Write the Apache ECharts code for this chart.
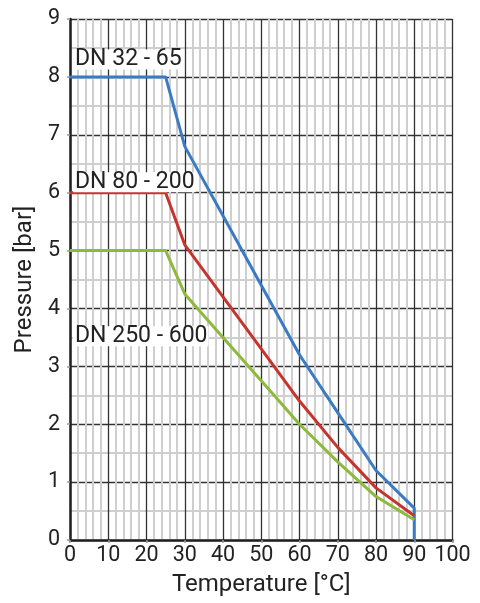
<!DOCTYPE html>
<html><head><meta charset="utf-8">
<script src="https://cdn.jsdelivr.net/npm/echarts@6/dist/echarts.min.js"></script>
<style>html,body{margin:0;padding:0;background:#fff}#c{width:480px;height:603px}</style>
</head><body><div id="c"></div>
<script>
const temps = [0, 25, 30, 40, 50, 60, 70, 80, 90];
const dn32_65 = [8, 8, 6.8, 5.6, 4.4, 3.2, 2.2, 1.2, 0.55];
const dn80_200 = [6, 6, 5.1, 4.2, 3.3, 2.4, 1.6, 0.9, 0.42];
const dn250_600 = [5, 5, 4.25, 3.5, 2.75, 2.0, 1.35, 0.75, 0.35];
const endDrop = [[90, 0]];
const seriesNames = ['DN 32 - 65', 'DN 80 - 200', 'DN 250 - 600'];
const labelPoints = [[0, 8.3], [0, 6.18], [0, 3.52]];
const colors = ['#3a7bc4', '#c6352d', '#8dba3c'];

const pair = (xs, ys) => xs.map((x, i) => [x, ys[i]]);
const font = 'Roboto, "Noto Sans", sans-serif';

const chart = echarts.init(document.getElementById('c'), null, {renderer: 'canvas'});
const lineSeries = [
  pair(temps, dn32_65).concat(endDrop),
  pair(temps, dn80_200),
  pair(temps, dn250_600)
].map((d, i) => ({
  type: 'line', name: seriesNames[i], data: d, symbol: 'none',
  lineStyle: {color: colors[i], width: 3}, z: 3, animation: false
}));

chart.setOption({
  animation: false,
  grid: {left: 70, right: 27.5, top: 19, bottom: 63},
  xAxis: {
    type: 'value', min: 0, max: 100, interval: 10,
    name: 'Temperature [°C]', nameLocation: 'middle', nameGap: 33,
    nameTextStyle: {fontFamily: font, fontSize: 24, color: '#222'},
    axisLine: {show: true, lineStyle: {color: '#222', width: 2.5}},
    axisTick: {show: true, length: 3, lineStyle: {color: '#999', width: 1.5}},
    axisLabel: {fontFamily: font, fontSize: 21.5, color: '#222', margin: 5},
    splitLine: {show: true, lineStyle: {color: '#333', width: 1.3}},
    minorTick: {show: false, splitNumber: 5},
    minorSplitLine: {show: true, lineStyle: {color: '#cfcfcf', width: 2}}
  },
  yAxis: {
    type: 'value', min: 0, max: 9, interval: 1,
    name: 'Pressure [bar]', nameLocation: 'middle', nameGap: 32, nameRotate: 90,
    nameTextStyle: {fontFamily: font, fontSize: 24, color: '#222'},
    axisLine: {show: true, lineStyle: {color: '#222', width: 2.5}},
    axisTick: {show: true, length: 3, lineStyle: {color: '#999', width: 1.5}},
    axisLabel: {fontFamily: font, fontSize: 21.5, color: '#222', margin: 10},
    splitLine: {show: true, lineStyle: {color: '#333', width: 1.3}},
    minorTick: {show: false, splitNumber: 2},
    minorSplitLine: {show: true, lineStyle: {color: '#cfcfcf', width: 2}}
  },
  series: lineSeries
});

const graphics = labelPoints.map((p, i) => {
  const px = chart.convertToPixel({gridIndex: 0}, p);
  return {
    type: 'text', z: 100, x: px[0] + 3, y: px[1],
    style: {
      text: seriesNames[i], fontFamily: font, fontSize: 23, fill: '#222',
      verticalAlign: 'middle', align: 'left', lineHeight: 17,
      backgroundColor: '#fff', padding: [3, 1, 0, 2]
    }
  };
});
chart.setOption({graphic: graphics});
</script></body></html>
